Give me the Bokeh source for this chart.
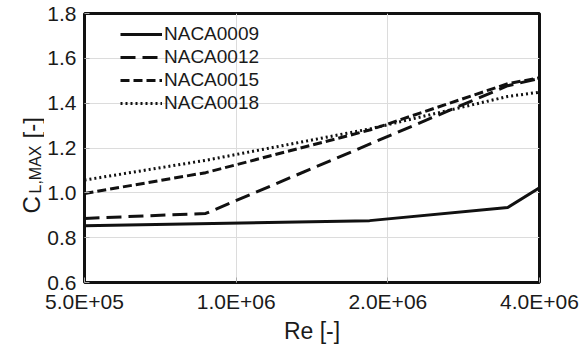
import math
from bokeh.plotting import figure
from bokeh.layouts import row
from bokeh.models import FixedTicker, Legend, LegendItem
from bokeh.core.properties import value
from bokeh.embed import file_html
from bokeh.resources import INLINE

# Data
re_0009 = [5.0e5, 1.84e6, 3.46e6, 4.0e6]
cl_0009 = [0.853, 0.876, 0.935, 1.022]

re_0012 = [5.0e5, 8.7e5, 3.46e6, 4.0e6]
cl_0012 = [0.886, 0.908, 1.478, 1.510]

re_0015 = [5.0e5, 8.7e5, 1.84e6, 3.46e6, 4.0e6]
cl_0015 = [0.997, 1.090, 1.280, 1.487, 1.513]

re_0018 = [5.0e5, 8.7e5, 1.84e6, 3.46e6, 4.0e6]
cl_0018 = [1.057, 1.145, 1.285, 1.430, 1.449]

x_ticks = [5.0e5, 1.0e6, 2.0e6, 4.0e6]
x_tick_labels = ["5.0E+05", "1.0E+06", "2.0E+06", "4.0E+06"]
y_ticks = [0.6, 0.8, 1.0, 1.2, 1.4, 1.6, 1.8]
y_tick_labels = ["0.6", "0.8", "1.0", "1.2", "1.4", "1.6", "1.8"]

series_names = ["NACA0009", "NACA0012", "NACA0015", "NACA0018"]
y_title_main = "C"
y_title_sub = "L,MAX"
y_title_unit = "[-]"
x_title = "Re [-]"

FONT = "Liberation Sans"
TXT = "#1a1a1a"

W, H = 588, 351
TOP, BOTTOM = 13, 69
LABEL_W = 44
p = figure(width=W - LABEL_W, height=H, x_axis_type="log",
           x_range=(5.0e5, 4.0e6), y_range=(0.6, 1.8),
           output_backend="svg", toolbar_location=None,
           min_border_left=84 - LABEL_W, min_border_right=49,
           min_border_top=TOP, min_border_bottom=BOTTOM)
p.background_fill_color = "white"
p.border_fill_color = "white"
p.outline_line_color = "#111111"
p.outline_line_width = 3

p.xaxis.ticker = FixedTicker(ticks=x_ticks)
p.xaxis.major_label_overrides = {t: l for t, l in zip(x_ticks, x_tick_labels)}
p.yaxis.ticker = FixedTicker(ticks=y_ticks)
p.yaxis.major_label_overrides = {t: l for t, l in zip(y_ticks, y_tick_labels)}
p.xaxis.minor_tick_line_color = None
p.yaxis.minor_tick_line_color = None

for ax in (p.xaxis, p.yaxis):
    ax.axis_line_color = None
    ax.major_tick_in = 5
    ax.major_tick_out = 0
    ax.major_tick_line_color = "#aaaaaa"
    ax.major_label_text_font = FONT
    ax.major_label_text_font_size = "21px"
    ax.major_label_text_color = TXT
    ax.major_label_standoff = 8
    ax.axis_label_text_font = FONT
    ax.axis_label_text_font_style = "normal"
    ax.axis_label_text_font_size = "23px"
    ax.axis_label_text_color = TXT

p.xaxis.axis_label = x_title
p.xaxis.axis_label_standoff = 2
p.xaxis.major_label_standoff = 7

p.xgrid.ticker = FixedTicker(ticks=x_ticks)
p.ygrid.ticker = FixedTicker(ticks=y_ticks)
p.xgrid.grid_line_color = "#dcdcdc"
p.ygrid.grid_line_color = "#dcdcdc"
p.xgrid.grid_line_width = 1
p.ygrid.grid_line_width = 1

col = "#111111"
r1 = p.line(re_0009, cl_0009, line_color=col, line_width=3)
r2 = p.line(re_0012, cl_0012, line_color=col, line_width=3, line_dash="15 7")
r3 = p.line(re_0015, cl_0015, line_color=col, line_width=3, line_dash="9 4")
r4 = p.line(re_0018, cl_0018, line_color=col, line_width=3, line_dash="2 3")

legend = Legend(items=[
    LegendItem(label=n, renderers=[r]) for n, r in zip(series_names, [r1, r2, r3, r4])
], location=(36, 168))
legend.background_fill_alpha = 0
legend.border_line_color = None
legend.padding = 0
legend.margin = 0
legend.glyph_width = 42
legend.glyph_height = 20
legend.label_height = 20
legend.spacing = 1
legend.label_standoff = 2
legend.label_text_font = FONT
legend.label_text_font_size = "19px"
legend.label_text_color = TXT
p.add_layout(legend, "center")

# Narrow side figure carrying the rotated y-axis title with its subscript.
q = figure(width=LABEL_W, height=H, x_range=(0, LABEL_W), y_range=(BOTTOM, H - TOP),
           output_backend="svg", toolbar_location=None,
           x_axis_location=None, y_axis_location=None,
           min_border_left=0, min_border_right=0,
           min_border_top=TOP, min_border_bottom=BOTTOM)
q.outline_line_color = None
q.background_fill_color = "white"
q.border_fill_color = "white"
q.xgrid.visible = False
q.ygrid.visible = False
ang = math.pi / 2
q.text(x=[31], y=[H - 213], text=[y_title_main], angle=ang,
       text_font=value(FONT), text_font_size="24px", text_color=TXT,
       text_baseline="alphabetic", text_align="left")
q.text(x=[35], y=[H - 193], text=[y_title_sub], angle=ang,
       text_font=value(FONT), text_font_size="16px", text_color=TXT,
       text_baseline="alphabetic", text_align="left")
q.text(x=[31], y=[H - 138], text=[y_title_unit], angle=ang,
       text_font=value(FONT), text_font_size="24px", text_color=TXT,
       text_baseline="alphabetic", text_align="left")

layout = row(q, p, spacing=0)
open("out.html", "w").write(file_html(layout, INLINE))
